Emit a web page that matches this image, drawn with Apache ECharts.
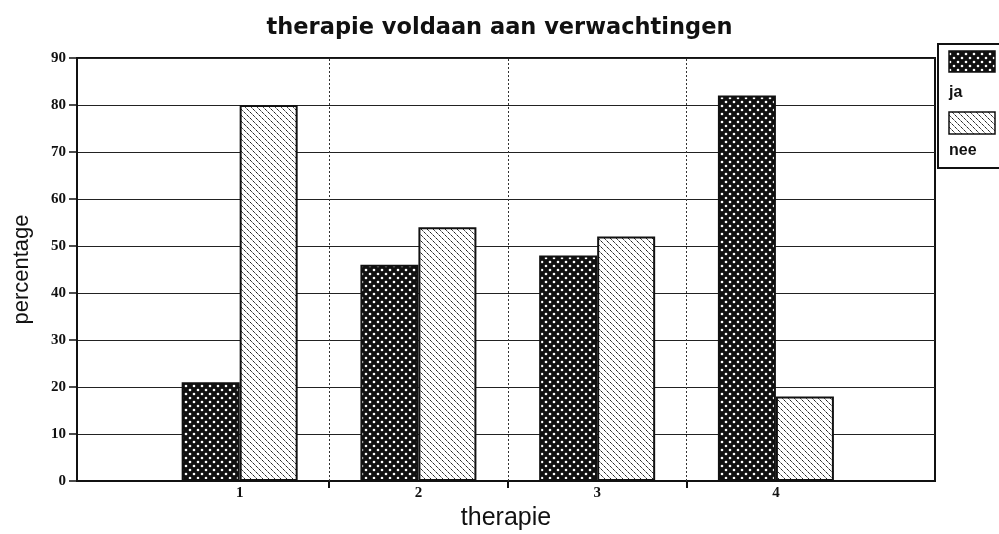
<!DOCTYPE html>
<html>
<head>
<meta charset="utf-8">
<script src="https://cdn.jsdelivr.net/npm/echarts@6/dist/echarts.min.js"></script>
<style>
  html, body { margin: 0; padding: 0; background: #fff; }
  #chart { width: 999px; height: 534px; }
</style>
</head>
<body>
<div id="chart"></div>
<script>
var categories = ['1', '2', '3', '4'];
var catPos = [1, 2, 3, 4];
var seriesNames = ['ja', 'nee'];
var jaValues = [21, 46, 48, 82];
var neeValues = [80, 54, 52, 18];
var categoryBounds = [1.5, 2.5, 3.5];

// fill patterns like the old print hatching
function makePattern(kind) {
	var c = document.createElement('canvas');
	var ctx = c.getContext('2d');
	if (kind === 'dots') {
		c.width = 8; c.height = 8;
		ctx.fillStyle = '#111';
		ctx.fillRect(0, 0, 8, 8);
		ctx.fillStyle = '#fff';
		[[2, 2], [6, 6]].forEach(function (p) {
			ctx.beginPath();
			ctx.arc(p[0], p[1], 1.3, 0, Math.PI * 2);
			ctx.fill();
		});
	} else {
		c.width = 6; c.height = 6;
		ctx.fillStyle = '#fff';
		ctx.fillRect(0, 0, 6, 6);
		ctx.strokeStyle = '#222';
		ctx.lineWidth = 1;
		ctx.beginPath();
		ctx.moveTo(0.5, 0.5); ctx.lineTo(2.8, 2.8);
		ctx.moveTo(3.5, 3.5); ctx.lineTo(5.8, 5.8);
		ctx.stroke();
	}
	return { image: c, repeat: 'repeat' };
}

var jaFill = makePattern('dots');
var neeFill = makePattern('dashes');

var myChart = echarts.init(document.getElementById('chart'));
var option = {
	backgroundColor: '#fff',
	animation: false,
	title: {
		text: 'therapie voldaan aan verwachtingen',
		left: 'center',
		top: 12,
		textStyle: {
			fontFamily: 'DejaVu Sans',
			fontWeight: 'bold',
			fontSize: 22.5,
			color: '#111'
		}
	},
	grid: {
		left: 77,
		right: 64,
		top: 58,
		bottom: 53,
		outerBoundsMode: 'none',
		show: true,
		borderColor: '#111',
		borderWidth: 2
	},
	xAxis: {
		type: 'value',
		min: 0.09,
		max: 4.89,
		name: 'therapie',
		nameLocation: 'middle',
		nameGap: 24,
		nameTextStyle: { fontFamily: 'Liberation Sans', fontSize: 25, color: '#111' },
		axisLine: { lineStyle: { color: '#111', width: 2 } },
		axisTick: { customValues: categoryBounds, length: 7, lineStyle: { color: '#111', width: 2 } },
		axisLabel: {
			customValues: catPos,
			formatter: function (v) { return categories[catPos.indexOf(v)]; },
			fontFamily: 'Liberation Serif',
			fontWeight: 'bold',
			fontSize: 15,
			color: '#111',
			margin: 5
		},
		splitLine: { show: false }
	},
	yAxis: {
		type: 'value',
		min: 0,
		max: 90,
		interval: 10,
		name: 'percentage',
		nameLocation: 'middle',
		nameGap: 44,
		nameTextStyle: { fontFamily: 'Liberation Sans', fontSize: 22, color: '#111' },
		axisLine: { show: true, lineStyle: { color: '#111', width: 2 } },
		axisTick: { show: true, length: 8, lineStyle: { color: '#111', width: 1.5 } },
		axisLabel: {
			fontFamily: 'Liberation Serif',
			fontWeight: 'bold',
			fontSize: 15,
			color: '#111',
			margin: 11
		},
		splitLine: { lineStyle: { color: '#222', width: 1 } }
	},
	series: [
		{
			name: seriesNames[0],
			type: 'bar',
			barWidth: 58,
			barGap: '0%',
			data: catPos.map(function (x, i) { return [x, jaValues[i]]; }),
			itemStyle: { color: jaFill, borderColor: '#111', borderWidth: 2 }
		},
		{
			name: seriesNames[1],
			type: 'bar',
			barWidth: 58,
			barGap: '0%',
			data: catPos.map(function (x, i) { return [x, neeValues[i]]; }),
			itemStyle: { color: neeFill, borderColor: '#111', borderWidth: 2 }
		},
		{
			// vertical lines between the categories
			name: 'bounds',
			type: 'line',
			data: [],
			markLine: {
				silent: true,
				symbol: 'none',
				label: { show: false },
				lineStyle: { color: '#333', width: 1, type: [2, 2] },
				data: categoryBounds.map(function (b) { return { xAxis: b }; })
			}
		}
	],
	// legend box: swatch above each name, like the original
	graphic: [
		{ type: 'rect', shape: { x: 938, y: 44, width: 70, height: 124 },
		  style: { fill: '#fff', stroke: '#111', lineWidth: 2 }, z: 10 },
		{ type: 'rect', shape: { x: 949, y: 51, width: 46, height: 21 },
		  style: { fill: jaFill, stroke: '#111', lineWidth: 1.5 }, z: 11 },
		{ type: 'text', x: 949, y: 93, z: 11,
		  style: { text: seriesNames[0], font: 'bold 16px "Liberation Sans"', fill: '#111', verticalAlign: 'middle' } },
		{ type: 'rect', shape: { x: 949, y: 112, width: 46, height: 22 },
		  style: { fill: neeFill, stroke: '#111', lineWidth: 1.5 }, z: 11 },
		{ type: 'text', x: 949, y: 151, z: 11,
		  style: { text: seriesNames[1], font: 'bold 16px "Liberation Sans"', fill: '#111', verticalAlign: 'middle' } }
	]
};
myChart.setOption(option);
</script>
</body>
</html>
